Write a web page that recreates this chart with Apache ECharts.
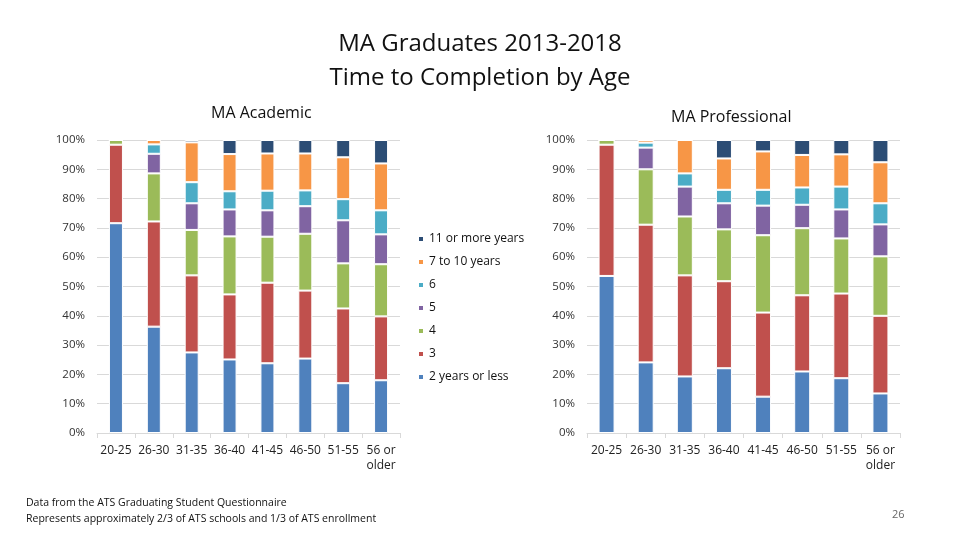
<!DOCTYPE html>
<html><head><meta charset="utf-8">
<script src="https://cdn.jsdelivr.net/npm/echarts@6/dist/echarts.min.js"></script>
<style>html,body{margin:0;padding:0;background:#fff}#c{width:960px;height:540px}</style>
</head><body><div id="c"></div>
<script>
const categories = ['20-25','26-30','31-35','36-40','41-45','46-50','51-55','56 or older'];
const seriesNames = ['2 years or less','3','4','5','6','7 to 10 years','11 or more years'];
const yTicks = ['0%','10%','20%','30%','40%','50%','60%','70%','80%','90%','100%'];

// MA Academic (percent)
const acad2OrLess = [71.6, 36.3, 27.5, 25.1, 23.8, 25.4, 17.0, 18.0];
const acad3       = [26.8, 35.9, 26.3, 22.2, 27.5, 23.2, 25.5, 21.8];
const acad4       = [1.6, 16.4, 15.5, 19.8, 15.7, 19.4, 15.4, 17.8];
const acad5       = [0, 6.7, 9.1, 9.2, 9.0, 9.4, 14.7, 10.2];
const acad6       = [0, 3.2, 7.2, 6.2, 6.7, 5.4, 7.2, 8.2];
const acad7to10   = [0, 1.5, 13.6, 12.7, 12.7, 12.6, 14.3, 16.0];
const acad11Plus  = [0, 0, 0.8, 4.8, 4.6, 4.6, 5.9, 8.0];

// MA Professional (percent)
const prof2OrLess = [53.6, 24.1, 19.3, 22.1, 12.4, 21.0, 18.7, 13.5];
const prof3       = [44.8, 47.0, 34.5, 29.7, 28.7, 26.0, 28.9, 26.5];
const prof4       = [1.6, 18.9, 20.1, 17.7, 26.4, 22.9, 18.8, 20.3];
const prof5       = [0, 7.4, 10.2, 8.9, 10.1, 8.0, 9.9, 10.9];
const prof6       = [0, 1.7, 4.5, 4.6, 5.4, 5.9, 7.8, 7.2];
const prof7to10   = [0, 0.9, 11.4, 10.7, 13.1, 11.1, 11.0, 14.0];
const prof11Plus  = [0, 0, 0, 6.3, 3.9, 5.1, 4.9, 7.6];

const colors = ['#4F81BD','#C0504D','#9BBB59','#8064A2','#4BACC6','#F79646','#2C4D75'];
const acad = [acad2OrLess, acad3, acad4, acad5, acad6, acad7to10, acad11Plus];
const prof = [prof2OrLess, prof3, prof4, prof5, prof6, prof7to10, prof11Plus];

const FONT = 'Open Sans';
const chart = echarts.init(document.getElementById('c'), null, {renderer:'canvas'});

function xAxis(gi){
  return {
    type:'category', gridIndex:gi, data:categories,
    axisLine:{lineStyle:{color:'#D9D9D9'}},
    axisTick:{show:true, length:5, lineStyle:{color:'#D9D9D9'}},
    axisLabel:{color:'#222', fontSize:12, fontFamily:FONT, interval:0, margin:10, lineHeight:15,
      formatter:v=>v.replace(' or ',' or\n')}
  };
}
function yAxis(gi){
  return {
    type:'value', gridIndex:gi, min:0, max:100, interval:10,
    axisLine:{show:false}, axisTick:{show:false},
    splitLine:{lineStyle:{color:'#D9D9D9'}},
    axisLabel:{color:'#333', fontSize:11.5, fontFamily:FONT, margin:12,
      formatter:v=>yTicks[Math.round(v/10)]}
  };
}
const series = [];
seriesNames.forEach((n,i)=>{
  series.push({name:n, type:'bar', stack:'a', xAxisIndex:0, yAxisIndex:0, data:acad[i], barWidth:14,
    itemStyle:{color:colors[i], borderColor:'#fff', borderWidth:1}});
});
seriesNames.forEach((n,i)=>{
  series.push({name:n, type:'bar', stack:'p', xAxisIndex:1, yAxisIndex:1, data:prof[i], barWidth:16,
    itemStyle:{color:colors[i], borderColor:'#fff', borderWidth:1}});
});

chart.setOption({
  animation:false,
  color:colors,
  title:[
    {text:'MA Graduates 2013-2018\nTime to Completion by Age', left:'center', top:22,
      textStyle:{fontFamily:FONT, fontSize:24, fontWeight:'normal', color:'#111', lineHeight:34}},
    {text:'MA Academic', left:206, top:100,
      textStyle:{fontFamily:FONT, fontSize:16, fontWeight:'normal', color:'#111'}},
    {text:'MA Professional', left:666, top:104,
      textStyle:{fontFamily:FONT, fontSize:16, fontWeight:'normal', color:'#111'}}
  ],
  legend:{
    orient:'vertical', left:412, top:228, itemWidth:6, itemHeight:6, itemGap:11,
    icon:'rect',
    data:seriesNames.slice().reverse(),
    textStyle:{fontFamily:FONT, fontSize:12, color:'#111'}
  },
  grid:[
    {left:97, right:560, top:140, bottom:107},
    {left:587, right:60, top:140, bottom:107}
  ],
  xAxis:[xAxis(0), xAxis(1)],
  yAxis:[yAxis(0), yAxis(1)],
  series:series,
  graphic:[
    {type:'text', left:26, top:495, style:{text:'Data from the ATS Graduating Student Questionnaire\nRepresents approximately 2/3 of ATS schools and 1/3 of ATS enrollment',
      font:'10.5px "Open Sans"', fill:'#111', lineHeight:16}},
    {type:'text', left:892, top:509, style:{text:'26', font:'11px "Open Sans"', fill:'#666'}}
  ]
});
</script></body></html>
